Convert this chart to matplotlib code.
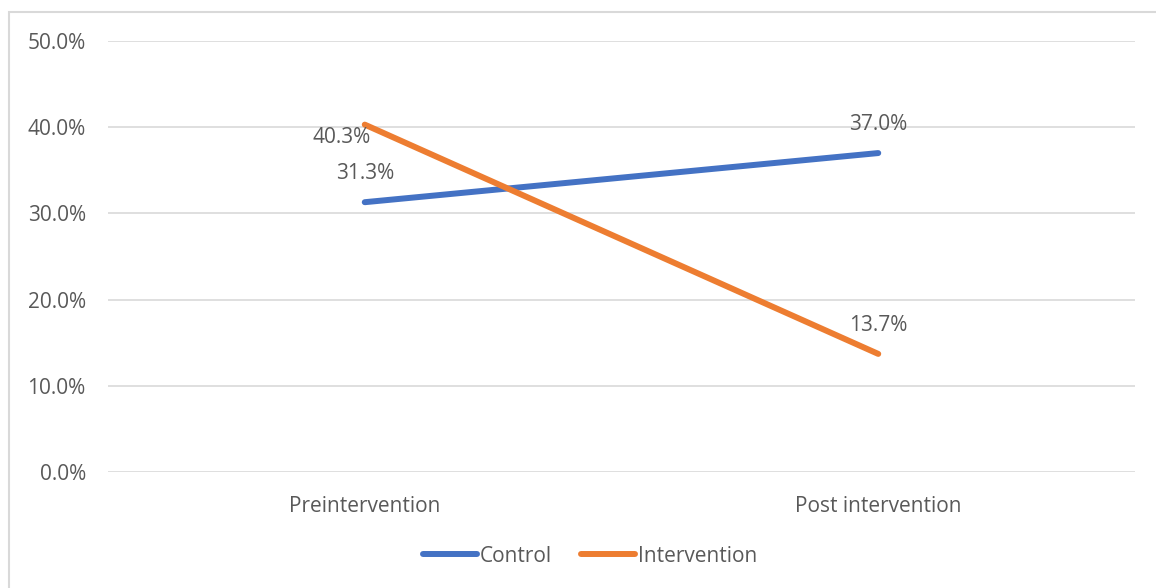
import matplotlib.pyplot as plt
from matplotlib.patches import Rectangle
from matplotlib.ticker import PercentFormatter

categories = ["Preintervention", "Post intervention"]
control = [31.3, 37.0]
intervention = [40.3, 13.7]
y_ticks = [0, 10, 20, 30, 40, 50]

BLUE = "#4472C4"
ORANGE = "#ED7D31"
GREY_TEXT = "#595959"
GRID = "#D9D9D9"
FS = 15

plt.rcParams["font.family"] = ["Open Sans", "DejaVu Sans"]


def main():
    fig = plt.figure(figsize=(11.56, 5.88), dpi=100)
    # chart border (only top and left edges fall inside the image)
    fig.patches.append(Rectangle((9 / 1156, -0.1), 1.2, 1.1 - 12 / 588,
                                 transform=fig.transFigure, fill=False,
                                 edgecolor="#D9D9D9", linewidth=1.5))
    ax = fig.add_axes([108 / 1156, 1 - 472 / 588, 1027 / 1156, 431 / 588])

    x = list(range(len(categories)))
    ax.plot(x, control, color=BLUE, linewidth=4.3, solid_capstyle="round",
            label="Control", zorder=3)
    ax.plot(x, intervention, color=ORANGE, linewidth=4.3,
            solid_capstyle="round", label="Intervention", zorder=3)

    ax.set_xlim(-0.5, 1.5)
    ax.set_ylim(0, 50)
    ax.set_yticks(y_ticks)
    ax.yaxis.set_major_formatter(PercentFormatter(decimals=1))
    ax.set_xticks(x)
    ax.set_xticklabels(categories)
    ax.tick_params(axis="both", length=0, labelsize=FS, colors=GREY_TEXT)
    ax.tick_params(axis="x", pad=17)
    ax.tick_params(axis="y", pad=16)
    ax.grid(axis="y", color=GRID, linewidth=1.2)
    ax.set_axisbelow(True)
    for s in ax.spines.values():
        s.set_visible(False)

    # value labels
    offsets = {(0, 0): (0, 20.5), (1, 0): (0, 20.5),
               (0, 1): (-17, -9), (1, 1): (0, 20.5)}
    for j, series in enumerate([control, intervention]):
        for i, v in enumerate(series):
            ax.annotate(f"{v:.1f}%", (i, v), xytext=offsets[(i, j)],
                        textcoords="offset points", ha="center", va="center",
                        fontsize=FS, color=GREY_TEXT, zorder=4)

    fig.legend(loc="center", bbox_to_anchor=(590 / 1156, 1 - 556 / 588),
               ncol=2, frameon=False, fontsize=FS, labelcolor=GREY_TEXT,
               handlelength=2.6, handletextpad=0.12, columnspacing=1.4)

    fig.savefig("out.png", dpi=100, facecolor="white")


if __name__ == "__main__":
    main()
